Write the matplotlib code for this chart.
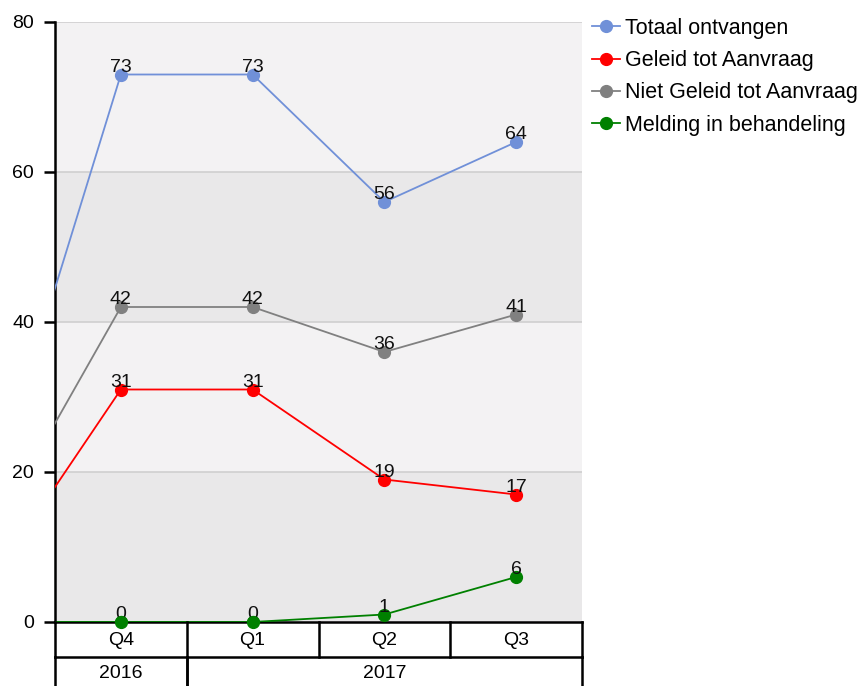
import matplotlib
matplotlib.use("Agg")

import matplotlib.pyplot as plt

plt.rcParams["font.family"] = ["Liberation Sans", "DejaVu Sans"]

# quarter before Q4 2016 lies just outside the plot, only the line into Q4 shows
quarters = ["Q3", "Q4", "Q1", "Q2", "Q3"]
years = ["2016", "2017"]
year_span = [(0, 1), (1, 4)]  # index ranges of visible quarters per year

totaal = [16, 73, 73, 56, 64]
geleid = [5, 31, 31, 19, 17]
niet_geleid = [11, 42, 42, 36, 41]
melding = [0, 0, 0, 1, 6]

series = [
    ("Totaal ontvangen", totaal, "#7090d8"),
    ("Geleid tot Aanvraag", geleid, "#ff0000"),
    ("Niet Geleid tot Aanvraag", niet_geleid, "#808080"),
    ("Melding in behandeling", melding, "#008000"),
]

W, H = 864, 686
fig = plt.figure(figsize=(W / 100, H / 100), dpi=100)
left, right, top, bottom = 55, 582, 22, 622
ax = fig.add_axes([left / W, (H - bottom) / H, (right - left) / W, (bottom - top) / H])

x = list(range(-1, len(quarters) - 1))

# banded background
for lo, hi, c in [(0, 20, "#e9e8e9"), (20, 40, "#f3f2f3"), (40, 60, "#e9e8e9"), (60, 80, "#f3f2f3")]:
    ax.axhspan(lo, hi, color=c, zorder=0, lw=0)
for g in [20, 40, 60, 80]:
    ax.axhline(g, color="#cfcfcf", lw=1.2, zorder=1)

for name, vals, col in series:
    ax.plot(x, vals, color=col, lw=1.3, marker="o", ms=8.5, label=name, zorder=3)
    for xi, v in zip(x[1:], vals[1:]):
        ax.annotate(str(v), (xi, v), xytext=(0, 2), textcoords="offset points",
                    ha="center", va="baseline", fontsize=14, color="#111111",
                    zorder=5, annotation_clip=False)

ax.set_xlim(-0.5, 3.5)
ax.set_ylim(0, 80)
ax.set_yticks([0, 20, 40, 60, 80])
ax.tick_params(axis="y", length=8, width=1.8, labelsize=14, pad=7)
ax.set_xticks([])
for s in ["top", "right"]:
    ax.spines[s].set_visible(False)
ax.spines["left"].set_linewidth(1.8)
ax.spines["bottom"].set_linewidth(1.8)

# green markers at zero are drawn over the axis
ax.plot(x[1:3], melding[1:3], ls="none", marker="o", ms=8.5, color="#008000", zorder=6, clip_on=False)

# category table under the axis
cat = fig.add_axes([left / W, -10 / H, (right - left) / W, (H - bottom + 10) / H])
cat.set_xlim(-0.5, 3.5)
row = 35
cat.set_ylim(H - bottom + 10, 0)
cat.axis("off")
for b in [-0.5, 0.5, 1.5, 2.5, 3.5]:
    cat.plot([b, b], [0, row], color="black", lw=1.8, clip_on=False)
cat.plot([-0.5, 3.5], [row, row], color="black", lw=1.8, clip_on=False)
for i, q in enumerate(quarters[1:]):
    cat.text(i, row / 2 + 1, q, ha="center", va="center", fontsize=14)
for yr, (a, b) in zip(years, year_span):
    cat.plot([b - 0.5, b - 0.5], [row, H - bottom + 10], color="black", lw=1.8, clip_on=False)
    cat.plot([a - 0.5, a - 0.5], [row, H - bottom + 10], color="black", lw=1.8, clip_on=False)
    cat.text((a + b - 1) / 2, 52, yr, ha="center", va="center", fontsize=14)

fig.legend(loc="upper left", bbox_to_anchor=(592 / W, 1 - 18 / H), frameon=False,
           fontsize=15.5, handlelength=1.3, handletextpad=0.25, labelspacing=0.52,
           borderaxespad=0, borderpad=0)

fig.savefig("out.png", dpi=100)
